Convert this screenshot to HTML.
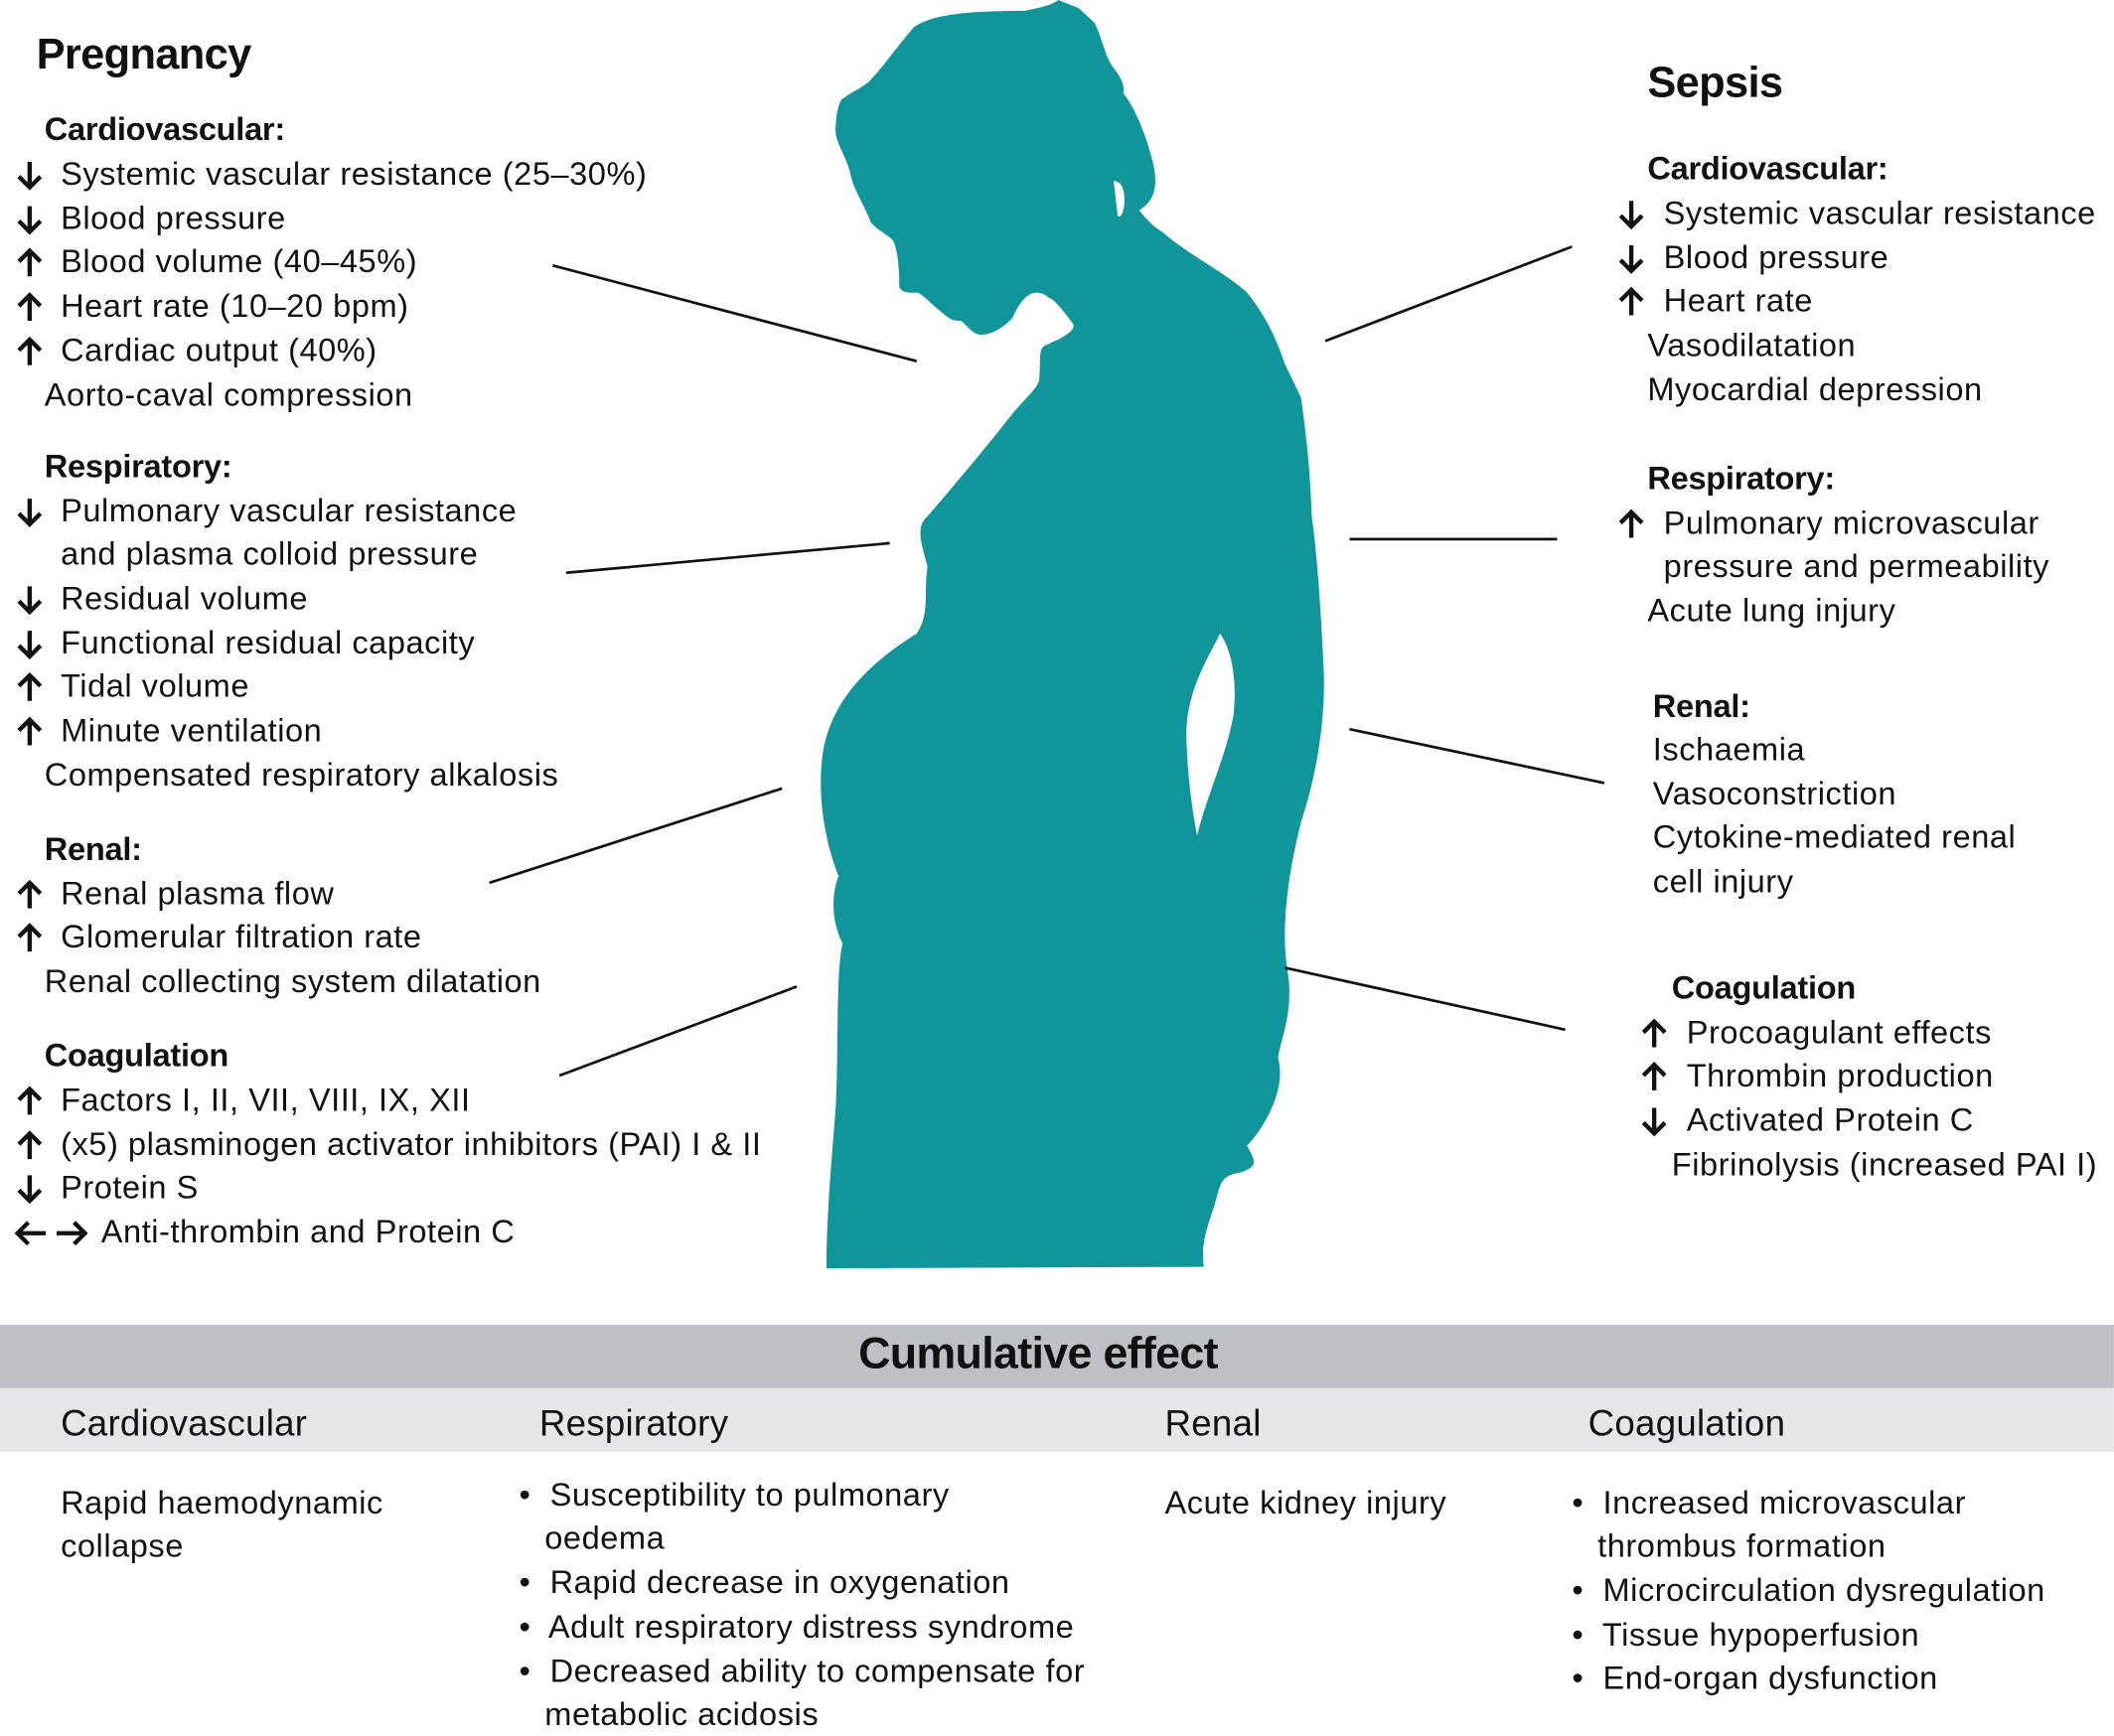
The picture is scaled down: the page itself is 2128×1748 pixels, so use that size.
<!DOCTYPE html>
<html><head><meta charset="utf-8"><style>
html,body{margin:0;padding:0;background:#fff;}
#w{position:relative;width:1568px;height:1288px;transform:scale(1.3571);transform-origin:0 0;font-family:"Liberation Sans",sans-serif;color:#111;}
.t{position:absolute;font-size:24px;line-height:28px;white-space:nowrap;letter-spacing:0.4px;}
.b{font-weight:bold;letter-spacing:-0.2px;}
.h{position:absolute;font-size:32px;font-weight:bold;white-space:nowrap;letter-spacing:-0.5px;}
.c{font-size:27px;letter-spacing:0.2px;}
svg.a{position:absolute;width:22px;height:24px;}
</style></head><body><div id="w">
<svg width="0" height="0" style="position:absolute">
<defs>
<symbol id="dn" viewBox="0 0 22 24"><path d="M11 2 V21 M3 13 L11 21 L19 13" fill="none" stroke="#111" stroke-width="3.2"/></symbol>
<symbol id="up" viewBox="0 0 22 24"><path d="M11 22 V3 M3 11 L11 3 L19 11" fill="none" stroke="#111" stroke-width="3.2"/></symbol>
</defs></svg>
<svg width="1568" height="1288" style="position:absolute;left:0;top:0">
<path fill="#10959a" d="M785,0 L800,6 L812,17 C818,30 820,42 825,49 C832,58 835,65 833,69 C842,80 850,100 855,120 C860,140 855,150 845,156 C850,162 855,168 862,172 C880,188 905,200 924,216 C940,235 948,255 953,270 L965,295 C970,330 972,355 973,383 C978,420 980,460 982,500 C983,540 975,580 965,610 C955,650 950,690 955,720 C960,750 950,770 948,785 C955,810 935,840 925,850 C930,860 935,865 920,870 C905,872 905,880 902,890 C898,905 890,920 893,940 L613,941 C613,900 617,860 620,820 C622,780 620,720 625,700 C615,680 618,660 622,650 C610,620 605,580 612,550 C620,520 640,495 680,470 C690,455 685,440 688,420 C682,400 680,390 688,383 C695,375 725,340 747,312 C760,295 771,288 771,280 C772,265 770,258 776,256 C790,250 800,244 795,239 C788,230 782,222 778,221 C770,214 760,215 751,236 C745,242 735,250 725,248 C718,245 715,238 712,238 C706,238 704,236 700,233 C690,225 683,217 680,217 C670,218 667,215 667,211 C667,195 665,180 661,177 C655,172 650,170 646,165 C640,150 633,140 631,130 C628,115 618,105 620,93 C620,85 622,78 624,74 C632,68 638,66 644,61 C655,50 665,35 678,20 C690,12 710,8 760,8 C770,6 780,4 785,0 Z"/>
<path fill="#fff" d="M905,470 C912,480 918,500 915,530 C910,560 895,590 888,620 C884,600 880,570 880,540 C882,510 895,490 905,470 Z"/>
<path fill="#fff" d="M826,134 C832,135 834,140 834,148 C834,160 830,162 829,160 Z"/>
<g stroke="#111" stroke-width="2">
<line x1="410" y1="197" x2="680" y2="268"/><line x1="420" y1="425" x2="660" y2="403"/>
<line x1="363" y1="655" x2="580" y2="585"/><line x1="415" y1="798" x2="591" y2="732"/>
<line x1="983" y1="253" x2="1166" y2="183"/><line x1="1001" y1="400" x2="1155" y2="400"/>
<line x1="1001" y1="541" x2="1190" y2="581"/><line x1="953" y1="718" x2="1161" y2="764"/>
</g>
<rect x="0" y="983" width="1568" height="47" fill="#bfc0c5"/>
<rect x="0" y="1030" width="1568" height="47" fill="#e6e6e8"/>
<g fill="none" stroke="#111" stroke-width="3.2">
<path d="M14 915 H34 M21 907 L13 915 L21 923"/>
<path d="M42 915 H62 M55 907 L63 915 L55 923"/>
</g>
</svg>

<div class="h" style="left:27px;top:22px">Pregnancy</div>
<div class="t b" style="left:33px;top:83px">Cardiovascular:</div>
<svg class="a" style="left:11px;top:118px"><use href="#dn"/></svg><div class="t" style="left:45px;top:116px">Systemic vascular resistance (25–30%)</div>
<svg class="a" style="left:11px;top:151px"><use href="#dn"/></svg><div class="t" style="left:45px;top:149px">Blood pressure</div>
<svg class="a" style="left:11px;top:183px"><use href="#up"/></svg><div class="t" style="left:45px;top:181px">Blood volume (40–45%)</div>
<svg class="a" style="left:11px;top:216px"><use href="#up"/></svg><div class="t" style="left:45px;top:214px">Heart rate (10–20 bpm)</div>
<svg class="a" style="left:11px;top:249px"><use href="#up"/></svg><div class="t" style="left:45px;top:247px">Cardiac output (40%)</div>
<div class="t" style="left:33px;top:280px">Aorto-caval compression</div>

<div class="t b" style="left:33px;top:333px">Respiratory:</div>
<svg class="a" style="left:11px;top:368px"><use href="#dn"/></svg><div class="t" style="left:45px;top:366px">Pulmonary vascular resistance</div>
<div class="t" style="left:45px;top:398px">and plasma colloid pressure</div>
<svg class="a" style="left:11px;top:433px"><use href="#dn"/></svg><div class="t" style="left:45px;top:431px">Residual volume</div>
<svg class="a" style="left:11px;top:466px"><use href="#dn"/></svg><div class="t" style="left:45px;top:464px">Functional residual capacity</div>
<svg class="a" style="left:11px;top:498px"><use href="#up"/></svg><div class="t" style="left:45px;top:496px">Tidal volume</div>
<svg class="a" style="left:11px;top:531px"><use href="#up"/></svg><div class="t" style="left:45px;top:529px">Minute ventilation</div>
<div class="t" style="left:33px;top:562px">Compensated respiratory alkalosis</div>

<div class="t b" style="left:33px;top:617px">Renal:</div>
<svg class="a" style="left:11px;top:652px"><use href="#up"/></svg><div class="t" style="left:45px;top:650px">Renal plasma flow</div>
<svg class="a" style="left:11px;top:684px"><use href="#up"/></svg><div class="t" style="left:45px;top:682px">Glomerular filtration rate</div>
<div class="t" style="left:33px;top:715px">Renal collecting system dilatation</div>

<div class="t b" style="left:33px;top:770px">Coagulation</div>
<svg class="a" style="left:11px;top:805px"><use href="#up"/></svg><div class="t" style="left:45px;top:803px">Factors I, II, VII, VIII, IX, XII</div>
<svg class="a" style="left:11px;top:838px"><use href="#up"/></svg><div class="t" style="left:45px;top:836px">(x5) plasminogen activator inhibitors (PAI) I &amp; II</div>
<svg class="a" style="left:11px;top:870px"><use href="#dn"/></svg><div class="t" style="left:45px;top:868px">Protein S</div>
<div class="t" style="left:75px;top:901px">Anti-thrombin and Protein C</div>

<div class="h" style="left:1222px;top:43px">Sepsis</div>
<div class="t b" style="left:1222px;top:112px">Cardiovascular:</div>
<svg class="a" style="left:1199px;top:147px"><use href="#dn"/></svg><div class="t" style="left:1234px;top:145px">Systemic vascular resistance</div>
<svg class="a" style="left:1199px;top:180px"><use href="#dn"/></svg><div class="t" style="left:1234px;top:178px">Blood pressure</div>
<svg class="a" style="left:1199px;top:212px"><use href="#up"/></svg><div class="t" style="left:1234px;top:210px">Heart rate</div>
<div class="t" style="left:1222px;top:243px">Vasodilatation</div>
<div class="t" style="left:1222px;top:276px">Myocardial depression</div>

<div class="t b" style="left:1222px;top:342px">Respiratory:</div>
<svg class="a" style="left:1199px;top:377px"><use href="#up"/></svg><div class="t" style="left:1234px;top:375px">Pulmonary microvascular</div>
<div class="t" style="left:1234px;top:407px">pressure and permeability</div>
<div class="t" style="left:1222px;top:440px">Acute lung injury</div>

<div class="t b" style="left:1226px;top:511px">Renal:</div>
<div class="t" style="left:1226px;top:543px">Ischaemia</div>
<div class="t" style="left:1226px;top:576px">Vasoconstriction</div>
<div class="t" style="left:1226px;top:608px">Cytokine-mediated renal</div>
<div class="t" style="left:1226px;top:641px">cell injury</div>

<div class="t b" style="left:1240px;top:720px">Coagulation</div>
<svg class="a" style="left:1216px;top:755px"><use href="#up"/></svg><div class="t" style="left:1251px;top:753px">Procoagulant effects</div>
<svg class="a" style="left:1216px;top:787px"><use href="#up"/></svg><div class="t" style="left:1251px;top:785px">Thrombin production</div>
<svg class="a" style="left:1216px;top:820px"><use href="#dn"/></svg><div class="t" style="left:1251px;top:818px">Activated Protein C</div>
<div class="t" style="left:1240px;top:851px">Fibrinolysis (increased PAI I)</div>

<div class="h" style="left:0;width:1540px;text-align:center;top:985px;font-size:33px">Cumulative effect</div>
<div class="t c" style="left:45px;top:1042px">Cardiovascular</div>
<div class="t c" style="left:400px;top:1042px">Respiratory</div>
<div class="t c" style="left:864px;top:1042px">Renal</div>
<div class="t c" style="left:1178px;top:1042px">Coagulation</div>

<div class="t" style="left:45px;top:1102px">Rapid haemodynamic</div>
<div class="t" style="left:45px;top:1134px">collapse</div>
<div class="t" style="left:385px;top:1096px">•&nbsp; Susceptibility to pulmonary</div>
<div class="t" style="left:404px;top:1128px">oedema</div>
<div class="t" style="left:385px;top:1161px">•&nbsp; Rapid decrease in oxygenation</div>
<div class="t" style="left:385px;top:1194px">•&nbsp; Adult respiratory distress syndrome</div>
<div class="t" style="left:385px;top:1227px">•&nbsp; Decreased ability to compensate for</div>
<div class="t" style="left:404px;top:1259px">metabolic acidosis</div>
<div class="t" style="left:864px;top:1102px">Acute kidney injury</div>
<div class="t" style="left:1166px;top:1102px">•&nbsp; Increased microvascular</div>
<div class="t" style="left:1185px;top:1134px">thrombus formation</div>
<div class="t" style="left:1166px;top:1167px">•&nbsp; Microcirculation dysregulation</div>
<div class="t" style="left:1166px;top:1200px">•&nbsp; Tissue hypoperfusion</div>
<div class="t" style="left:1166px;top:1232px">•&nbsp; End-organ dysfunction</div>
</div></body></html>
